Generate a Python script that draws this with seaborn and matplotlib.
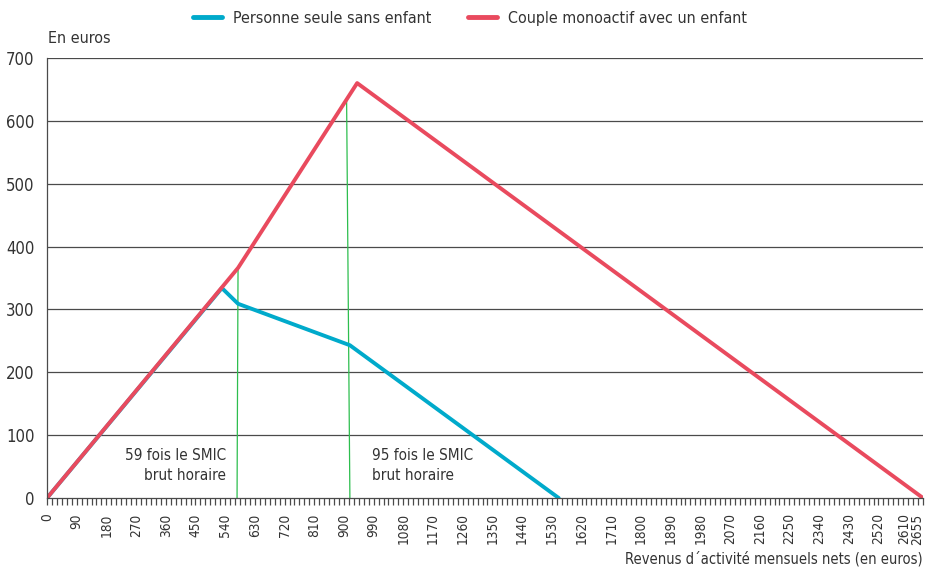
import numpy as np
import pandas as pd
import matplotlib
matplotlib.use('Agg')
import matplotlib.pyplot as plt
import matplotlib.transforms as mtransforms
import seaborn as sns
from matplotlib.lines import Line2D

# valeurs
revenu_seul = [0, 530, 579, 918, 1551]
gain_seul = [0, 334, 309, 243, 0]
revenu_couple = [0, 579, 940, 2655]
gain_couple = [0, 366, 660, 0]
smic_59 = ([576, 579], [0, 366])
smic_95 = ([918, 908], [0, 635])
labels_series = ['Personne seule sans enfant', 'Couple monoactif avec un enfant']
x_labels = list(range(0, 2611, 90)) + [2655]
y_labels = list(range(0, 701, 100))

sns.set_theme(style='white')
plt.rcParams['font.family'] = ['DejaVu Sans']
plt.rcParams['font.stretch'] = 'condensed'

df = pd.concat([
    pd.DataFrame({'revenu': revenu_seul, 'gain': gain_seul, 'menage': labels_series[0]}),
    pd.DataFrame({'revenu': revenu_couple, 'gain': gain_couple, 'menage': labels_series[1]}),
])
palette = {labels_series[0]: '#00AACB', labels_series[1]: '#E94A5E'}
txt = '#333333'

fig = plt.figure(figsize=(9.27, 5.68), dpi=100)
ax = fig.add_axes([0.0507, 0.1232, 0.9450, 0.7748])

for y in y_labels[1:]:
    ax.axhline(y, color='#4a4a4a', lw=0.9, zorder=0)

sns.lineplot(data=df, x='revenu', y='gain', hue='menage', palette=palette,
             lw=2.8, sort=False, estimator=None, ax=ax, legend=False,
             solid_capstyle='round', solid_joinstyle='round')

ax.plot(smic_59[0], smic_59[1], color='#2DBE4E', lw=0.9, zorder=1)
ax.plot(smic_95[0], smic_95[1], color='#2DBE4E', lw=0.9, zorder=1)

ax.text(543, 80, '59 fois le SMIC\nbrut horaire', ha='right', va='top',
        fontsize=11, color=txt, linespacing=1.45)
ax.text(985, 80, '95 fois le SMIC\nbrut horaire', ha='left', va='top',
        fontsize=11, color=txt, linespacing=1.45)

ax.set_xlim(0, 2655)
ax.set_ylim(0, 700)
ax.set_xticks(x_labels)
ax.set_xticklabels([str(v) for v in x_labels], rotation=90, fontsize=9.8, color=txt)
ax.set_xticks(np.arange(0, 2656, 15), minor=True)
ax.set_yticks(y_labels)
ax.set_yticklabels([str(v) for v in y_labels], fontsize=12, color=txt)
ax.tick_params(axis='x', which='both', direction='out', length=5, width=0.9,
               color='#4a4a4a', bottom=True, pad=6)
ax.tick_params(axis='y', length=0, pad=9)
# les deux derniers libelles sont serres
labs = ax.get_xticklabels()
for lab, dx in zip(labs[-2:], [-4, -6]):
    lab.set_transform(lab.get_transform() + mtransforms.ScaledTranslation(dx / 100, 0, fig.dpi_scale_trans))
for s in ['top', 'right']:
    ax.spines[s].set_visible(False)
for s in ['left', 'bottom']:
    ax.spines[s].set_color('#4a4a4a')
    ax.spines[s].set_linewidth(0.9)
ax.set_xlabel('')
ax.set_ylabel('')

fig.text(0.052, 0.933, 'En euros', fontsize=11.5, color=txt, va='center')
fig.text(0.9957, 0.002, 'Revenus d\u00b4activit\u00e9 mensuels nets (en euros)',
         fontsize=10.5, color=txt, ha='right', va='bottom')

# legende : deux entrees placees separement
for k, xpos in zip(labels_series, [0.208, 0.505]):
    fig.legend([Line2D([0], [0], color=palette[k], lw=3.5)], [k],
               loc='center left', bbox_to_anchor=(xpos, 0.968),
               frameon=False, fontsize=11.5, handlelength=1.8,
               handletextpad=0.7, borderaxespad=0, borderpad=0,
               labelcolor=txt)

fig.savefig('out.png', dpi=100)
